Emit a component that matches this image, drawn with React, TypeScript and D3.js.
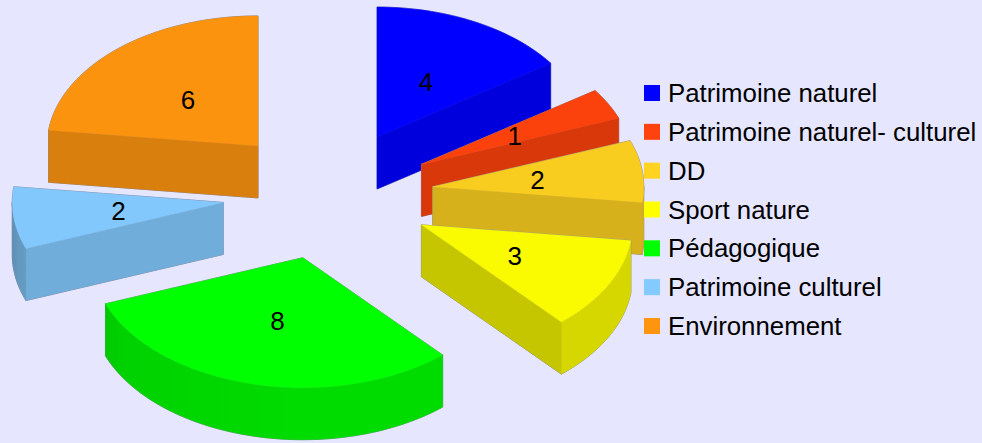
import React from "react";
import * as d3 from "d3";

const categories = [
  "Patrimoine naturel",
  "Patrimoine naturel- culturel",
  "DD",
  "Sport nature",
  "Pédagogique",
  "Patrimoine culturel",
  "Environnement",
];
const values = [4, 1, 2, 3, 8, 2, 6];
const legendColors = ["#0000ff", "#ff420e", "#ffd320", "#ffff00", "#00ff00", "#83caff", "#ff950e"];
const topColors = ["#0000ff", "#fb420c", "#f9cd1f", "#fafa00", "#00ff00", "#83c8fc", "#fb930f"];

const width = 982;
const height = 443;
const cx = 328;
const cy = 194.6;
const rx = 211;
const ry = 130;
const depth = 52;
const explode = 0.5;
const edgeColor = "#85859a";

// full circle, clockwise from 12 o'clock
const pieAngles = d3.pie<number>().sort(null).startAngle(0).endAngle(2 * Math.PI)(values);
// draw back to front, so the slices overlap like the picture
const drawOrder = [0, 1, 2, 3, 6, 5, 4];

const shadeCurve = d3.scaleLinear().domain([90, 180, 240, 270]).range([0.86, 0.86, 0.82, 0.7]).clamp(true);
const toDeg = (a: number) => (a * 180) / Math.PI;
const darken = (c: string, k: number) => {
  const { r, g, b } = d3.rgb(c);
  return d3.rgb(r * k, g * k, b * k).formatHex();
};
const radialShade = (a: number) => (toDeg(a) > 120 && toDeg(a) < 180 ? 0.79 : 0.865);

const line = d3.line();
const closed = (pts: [number, number][]) => line(pts) + "Z";

function arcPoints(x0: number, y0: number, a0: number, a1: number): [number, number][] {
  const n = Math.max(2, Math.ceil(toDeg(a1 - a0) / 1.5));
  const t = d3.scaleLinear().domain([0, n]).range([a0, a1]);
  return d3.range(n + 1).map((i) => [x0 + rx * Math.sin(t(i)), y0 - ry * Math.cos(t(i))] as [number, number]);
}

function Slice({ index }: { index: number }) {
  const { startAngle: a0, endAngle: a1 } = pieAngles[index];
  const mid = (a0 + a1) / 2;
  const ax = cx + explode * rx * Math.sin(mid);
  const ay = cy - explode * ry * Math.cos(mid);
  const top = topColors[index];
  const arc = arcPoints(ax, ay, a0, a1);
  const apex: [number, number] = [ax, ay];
  const drop = (p: [number, number]): [number, number] => [p[0], p[1] + depth];

  const faces: { d: string; fill: string }[] = [];

  // flat cut faces, only the ones turned toward the viewer
  if (toDeg(a0) > 180) {
    const p = arc[0];
    faces.push({ d: closed([apex, p, drop(p), drop(apex)]), fill: darken(top, radialShade(a0)) });
  }
  if (toDeg(a1) < 180) {
    const p = arc[arc.length - 1];
    faces.push({ d: closed([apex, p, drop(p), drop(apex)]), fill: darken(top, radialShade(a1)) });
  }

  // rounded outer wall, shaded with a horizontal gradient
  const from = Math.max(a0, Math.PI / 2);
  const to = Math.min(a1, (3 * Math.PI) / 2);
  const hasWall = to > from;
  const gradId = "wall" + index;
  let stops: { offset: number; color: string }[] = [];
  let gx0 = 0;
  let gx1 = 0;
  if (hasWall) {
    const wall = arcPoints(ax, ay, from, to);
    faces.push({ d: closed([...wall, ...wall.map(drop).reverse()]), fill: `url(#${gradId})` });
    gx0 = wall[0][0];
    gx1 = wall[wall.length - 1][0];
    const t = d3.scaleLinear().domain([0, 10]).range([from, to]);
    stops = d3.range(11).map((i) => ({
      offset: (ax + rx * Math.sin(t(i)) - gx0) / (gx1 - gx0),
      color: darken(top, shadeCurve(toDeg(t(i)))),
    }));
  }

  const topPath = closed([apex, ...arc]);

  return (
    <g>
      {hasWall && (
        <defs>
          <linearGradient id={gradId} gradientUnits="userSpaceOnUse" x1={gx0} x2={gx1} y1={0} y2={0}>
            {stops.map((s, i) => (
              <stop key={i} offset={s.offset} stopColor={s.color} />
            ))}
          </linearGradient>
        </defs>
      )}
      {faces.map((f, i) => (
        <path key={"e" + i} d={f.d} fill="none" stroke={edgeColor} strokeWidth={1} />
      ))}
      <path d={topPath} fill="none" stroke={edgeColor} strokeWidth={1} />
      {faces.map((f, i) => (
        <path key={"f" + i} d={f.d} fill={f.fill} stroke={f.fill} strokeWidth={0.4} />
      ))}
      <path d={topPath} fill={top} stroke={top} strokeWidth={0.4} />
    </g>
  );
}

function ValueLabel({ index }: { index: number }) {
  const { startAngle: a0, endAngle: a1 } = pieAngles[index];
  const mid = (a0 + a1) / 2;
  return (
    <text
      x={cx + (explode + 0.5) * rx * Math.sin(mid)}
      y={cy + 1 - (explode + 0.49) * ry * Math.cos(mid)}
      dy="0.36em"
      textAnchor="middle"
      fontSize={26}
      fill="#000"
    >
      {values[index]}
    </text>
  );
}

export default function App() {
  const legendY = d3.scalePoint<string>().domain(categories).range([93, 326]);
  return (
    <svg
      width={width}
      height={height}
      style={{ position: "absolute", left: 0, top: 0, display: "block" }}
      fontFamily="'Liberation Sans', Arial, sans-serif"
    >
      <rect width={width} height={height} fill="#e6e6ff" />
      {drawOrder.map((i) => (
        <Slice key={i} index={i} />
      ))}
      {drawOrder.map((i) => (
        <ValueLabel key={i} index={i} />
      ))}
      {categories.map((c, i) => (
        <g key={c} transform={`translate(0,${legendY(c)})`}>
          <rect x={644} y={-8} width={16} height={16} fill={legendColors[i]} />
          <text x={668} y={9} fontSize={25.8} fill="#000">
            {c}
          </text>
        </g>
      ))}
    </svg>
  );
}
